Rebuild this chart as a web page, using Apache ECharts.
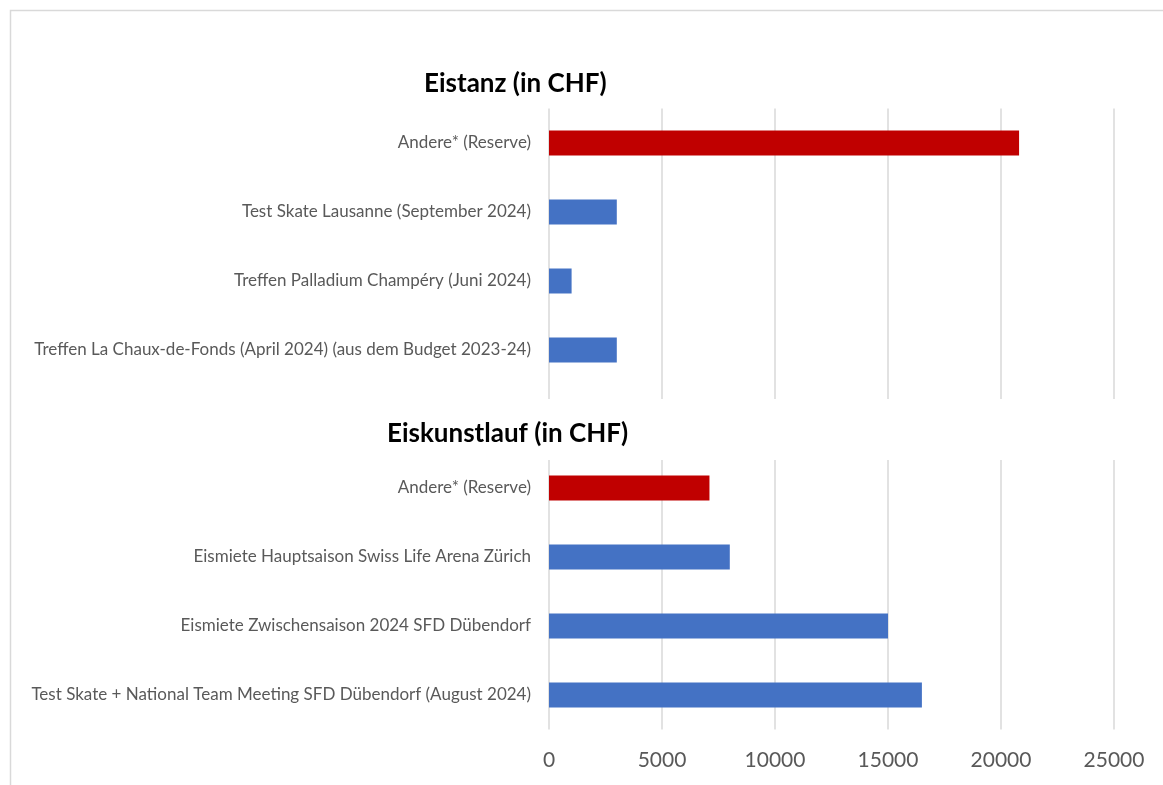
<!DOCTYPE html>
<html>
<head>
<meta charset="utf-8">
<script src="https://cdn.jsdelivr.net/npm/echarts@6/dist/echarts.min.js"></script>
<style>
  html, body { margin: 0; padding: 0; background: #fff; }
  #chart { width: 1163px; height: 785px; }
</style>
</head>
<body>
<div id="chart"></div>
<script>
// categories from top to bottom; the empty one is the spacer row under "Eiskunstlauf"
const categories = [
  'Andere* (Reserve)',
  'Test Skate Lausanne (September 2024)',
  'Treffen Palladium Champéry (Juni 2024)',
  'Treffen La Chaux-de-Fonds (April 2024) (aus dem Budget 2023-24)',
  '',
  'Andere* (Reserve)',
  'Eismiete Hauptsaison Swiss Life Arena Zürich',
  'Eismiete Zwischensaison 2024 SFD Dübendorf',
  'Test Skate + National Team Meeting SFD Dübendorf (August 2024)'
]
const amounts = [20800, 3000, 1000, 3000, null, 7100, 8000, 15000, 16500]
const isReserve = [true, false, false, false, false, true, false, false, false]
const xTicks = [0, 5000, 10000, 15000, 20000, 25000]
const sectionTitles = ['Eistanz (in CHF)', 'Eiskunstlauf (in CHF)']

const FONT = 'Lato, "Open Sans", sans-serif'
const chart = echarts.init(document.getElementById('chart'))

chart.setOption({
  animation: false,
  backgroundColor: '#fff',
  textStyle: { fontFamily: FONT },
  title: [
    {
      text: sectionTitles[0],
      left: 424,
      top: 71,
      padding: 0,
      textStyle: { fontSize: 26, fontWeight: 'bold', color: '#000', fontFamily: FONT }
    },
    {
      // white box hides the gridlines behind the second header
      text: sectionTitles[1],
      left: 387,
      top: 399,
      padding: [22, 520, 13, 0],
      backgroundColor: '#fff',
      textStyle: { fontSize: 26, fontWeight: 'bold', color: '#000', fontFamily: FONT }
    }
  ],
  graphic: [{
    type: 'rect',
    shape: { x: 10.5, y: 10.5, width: 1300, height: 900 },
    style: { fill: 'none', stroke: '#d9d9d9', lineWidth: 1.5 },
    silent: true
  }],
  grid: { left: 549, right: 49, top: 108.5, bottom: 55.5, containLabel: false },
  xAxis: {
    type: 'value',
    min: xTicks[0],
    max: xTicks[xTicks.length - 1],
    interval: xTicks[1] - xTicks[0],
    axisLine: { show: false },
    axisTick: { show: false },
    axisLabel: {
      color: '#595959', fontSize: 21, margin: 20, fontFamily: FONT,
      formatter: v => String(v)
    },
    splitLine: { lineStyle: { color: '#d9d9d9', width: 1.5 } }
  },
  yAxis: {
    type: 'category',
    inverse: true,
    data: categories,
    axisLine: { show: false },
    axisTick: { show: false },
    axisLabel: { color: '#595959', fontSize: 17, margin: 18, fontFamily: FONT }
  },
  series: [{
    type: 'bar',
    barWidth: 25,
    data: amounts.map((v, i) => ({
      value: v,
      itemStyle: { color: isReserve[i] ? '#C00000' : '#4472C4' }
    }))
  }]
})
</script>
</body>
</html>
